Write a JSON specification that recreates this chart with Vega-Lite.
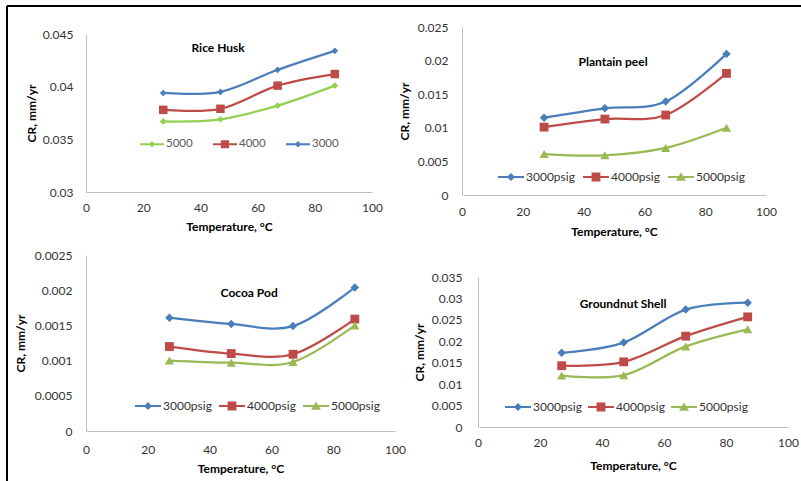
{
  "$schema": "https://vega.github.io/schema/vega-lite/v6.json",
  "width": 794,
  "height": 475,
  "autosize": {"type": "none"},
  "padding": {"left": 7, "top": 6, "right": 0, "bottom": 0},
  "background": "white",
  "view": {"stroke": "black", "strokeWidth": 2, "strokeDash": [794, 1269, 475, 0]},
  "config": {
    "font": "Lato",
    "axis": {"ticks": false, "grid": false, "domainColor": "#bfbfbf", "domainWidth": 1, "labelFont": "Lato", "labelFontSize": 12, "labelColor": "#333333", "titleFont": "Lato", "titleFontSize": 12, "titleFontWeight": "bold", "titleColor": "#000000", "labelFlush": false, "labelOverlap": false},
    "legend": {"direction": "horizontal", "orient": "none", "title": null, "labelFont": "Lato", "labelFontSize": 12, "labelColor": "#333333", "padding": 0, "symbolOpacity": 1, "symbolStrokeWidth": 0, "labelOffset": 2, "columnPadding": 7, "symbolSize": 676}
  },
  "data": {"values": [
    {"p": "RH", "s": "3000", "t": 27, "cr": 0.0394}, {"p": "RH", "s": "3000", "t": 47, "cr": 0.0395}, {"p": "RH", "s": "3000", "t": 67, "cr": 0.0416}, {"p": "RH", "s": "3000", "t": 87, "cr": 0.0434},
    {"p": "RH", "s": "4000", "t": 27, "cr": 0.0378}, {"p": "RH", "s": "4000", "t": 47, "cr": 0.0379}, {"p": "RH", "s": "4000", "t": 67, "cr": 0.0401}, {"p": "RH", "s": "4000", "t": 87, "cr": 0.0412},
    {"p": "RH", "s": "5000", "t": 27, "cr": 0.0367}, {"p": "RH", "s": "5000", "t": 47, "cr": 0.0369}, {"p": "RH", "s": "5000", "t": 67, "cr": 0.0382}, {"p": "RH", "s": "5000", "t": 87, "cr": 0.0401},
    {"p": "PP", "s": "3000psig", "t": 27, "cr": 0.0115}, {"p": "PP", "s": "3000psig", "t": 47, "cr": 0.0129}, {"p": "PP", "s": "3000psig", "t": 67, "cr": 0.0139}, {"p": "PP", "s": "3000psig", "t": 87, "cr": 0.0210},
    {"p": "PP", "s": "4000psig", "t": 27, "cr": 0.0101}, {"p": "PP", "s": "4000psig", "t": 47, "cr": 0.0113}, {"p": "PP", "s": "4000psig", "t": 67, "cr": 0.0119}, {"p": "PP", "s": "4000psig", "t": 87, "cr": 0.0181},
    {"p": "PP", "s": "5000psig", "t": 27, "cr": 0.0061}, {"p": "PP", "s": "5000psig", "t": 47, "cr": 0.0059}, {"p": "PP", "s": "5000psig", "t": 67, "cr": 0.0070}, {"p": "PP", "s": "5000psig", "t": 87, "cr": 0.0100},
    {"p": "CP", "s": "3000psig", "t": 27, "cr": 0.00161}, {"p": "CP", "s": "3000psig", "t": 47, "cr": 0.00152}, {"p": "CP", "s": "3000psig", "t": 67, "cr": 0.00149}, {"p": "CP", "s": "3000psig", "t": 87, "cr": 0.00204},
    {"p": "CP", "s": "4000psig", "t": 27, "cr": 0.00120}, {"p": "CP", "s": "4000psig", "t": 47, "cr": 0.00110}, {"p": "CP", "s": "4000psig", "t": 67, "cr": 0.00109}, {"p": "CP", "s": "4000psig", "t": 87, "cr": 0.00159},
    {"p": "CP", "s": "5000psig", "t": 27, "cr": 0.00100}, {"p": "CP", "s": "5000psig", "t": 47, "cr": 0.00097}, {"p": "CP", "s": "5000psig", "t": 67, "cr": 0.00098}, {"p": "CP", "s": "5000psig", "t": 87, "cr": 0.00150},
    {"p": "GS", "s": "3000psig", "t": 27, "cr": 0.0173}, {"p": "GS", "s": "3000psig", "t": 47, "cr": 0.0197}, {"p": "GS", "s": "3000psig", "t": 67, "cr": 0.0274}, {"p": "GS", "s": "3000psig", "t": 87, "cr": 0.0290},
    {"p": "GS", "s": "4000psig", "t": 27, "cr": 0.0143}, {"p": "GS", "s": "4000psig", "t": 47, "cr": 0.0152}, {"p": "GS", "s": "4000psig", "t": 67, "cr": 0.0212}, {"p": "GS", "s": "4000psig", "t": 87, "cr": 0.0257},
    {"p": "GS", "s": "5000psig", "t": 27, "cr": 0.0120}, {"p": "GS", "s": "5000psig", "t": 47, "cr": 0.0121}, {"p": "GS", "s": "5000psig", "t": 67, "cr": 0.0188}, {"p": "GS", "s": "5000psig", "t": 87, "cr": 0.0228}
  ]},
  "layer": [
    {
      "transform": [{"filter": "datum.p === 'RH'"}],
      "encoding": {
        "x": {"field": "t", "type": "quantitative", "scale": {"domain": [0, 100], "range": [79, 365], "nice": false, "zero": false},
              "axis": {"orient": "bottom", "offset": -289, "values": [0, 20, 40, 60, 80, 100], "labelPadding": 10, "title": "Temperature, °C", "titlePadding": 8}},
        "y": {"field": "cr", "type": "quantitative", "scale": {"domain": [0.03, 0.045], "range": [186, 28], "nice": false, "zero": false},
              "axis": {"orient": "left", "offset": -79, "values": [0.03, 0.035, 0.04, 0.045], "format": "~g", "labelPadding": 13, "title": "CR, mm/yr", "titlePadding": 4}}
      },
      "layer": [
        {"mark": {"type": "line", "interpolate": "cardinal", "strokeWidth": 2.25},
         "encoding": {"color": {"field": "s", "type": "nominal", "scale": {"domain": ["5000", "4000", "3000"], "range": ["#92D050", "#BE4B48", "#4A7EBB"]}}}},
        {"transform": [{"filter": "datum.s === '5000'"}], "mark": {"type": "point", "filled": true, "opacity": 1, "shape": "diamond", "size": 45, "color": "#92D050"}},
        {"transform": [{"filter": "datum.s === '4000'"}], "mark": {"type": "point", "filled": true, "opacity": 1, "shape": "square", "size": 72, "color": "#BE4B48"}},
        {"transform": [{"filter": "datum.s === '3000'"}], "mark": {"type": "point", "filled": true, "opacity": 1, "shape": "diamond", "size": 45, "color": "#4A7EBB"}},
        {"mark": {"type": "point", "filled": true, "opacity": 0, "size": 1},
         "encoding": {"color": {"field": "s", "type": "nominal", "scale": {"domain": ["5000", "4000", "3000"], "range": ["#92D050", "#BE4B48", "#4A7EBB"]},
                                "legend": {"legendX": 133, "legendY": 126, "symbolSize": 576, "columnPadding": 20, "labelFontSize": 11.5, "labelColor": "#595959"}},
                      "shape": {"field": "s", "type": "nominal", "scale": {"domain": ["5000", "4000", "3000"], "range": [
                        "M-1,-0.09L1,-0.09L1,0.09L-1,0.09Z M0,-0.27L0.27,0L0,0.27L-0.27,0Z",
                        "M-1,-0.09L1,-0.09L1,0.09L-1,0.09Z M-0.34,-0.34L0.34,-0.34L0.34,0.34L-0.34,0.34Z",
                        "M-1,-0.09L1,-0.09L1,0.09L-1,0.09Z M0,-0.27L0.27,0L0,0.27L-0.27,0Z"]}, "legend": null}}},
        {"transform": [{"filter": "datum.s === '3000' && datum.t === 27"}],
         "mark": {"type": "text", "text": "Rice Husk", "fontSize": 12, "fontWeight": "bold", "align": "center", "baseline": "middle", "color": "#000000"},
         "encoding": {"x": {"datum": 46.2, "type": "quantitative"}, "y": {"datum": 0.04367, "type": "quantitative"}}}
      ]
    },
    {
      "transform": [{"filter": "datum.p === 'PP'"}],
      "encoding": {
        "x": {"field": "t", "type": "quantitative", "scale": {"domain": [0, 100], "range": [455, 759], "nice": false, "zero": false},
              "axis": {"orient": "bottom", "offset": -286, "values": [0, 20, 40, 60, 80, 100], "labelPadding": 11, "title": "Temperature, °C", "titlePadding": 9}},
        "y": {"field": "cr", "type": "quantitative", "scale": {"domain": [0, 0.025], "range": [189, 21], "nice": false, "zero": false},
              "axis": {"orient": "left", "offset": -455, "values": [0, 0.005, 0.01, 0.015, 0.02, 0.025], "format": "~g", "labelPadding": 14, "title": "CR, mm/yr", "titlePadding": 6}}
      },
      "layer": [
        {"mark": {"type": "line", "interpolate": "cardinal", "strokeWidth": 2.25},
         "encoding": {"color": {"field": "s", "type": "nominal", "scale": {"domain": ["3000psig", "4000psig", "5000psig"], "range": ["#4A7EBB", "#BE4B48", "#98B954"]}}}},
        {"transform": [{"filter": "datum.s === '3000psig'"}], "mark": {"type": "point", "filled": true, "opacity": 1, "shape": "diamond", "size": 72, "color": "#4A7EBB"}},
        {"transform": [{"filter": "datum.s === '4000psig'"}], "mark": {"type": "point", "filled": true, "opacity": 1, "shape": "square", "size": 78, "color": "#BE4B48"}},
        {"transform": [{"filter": "datum.s === '5000psig'"}], "mark": {"type": "point", "filled": true, "opacity": 1, "shape": "triangle-up", "size": 85, "color": "#98B954"}},
        {"mark": {"type": "point", "filled": true, "opacity": 0, "size": 1},
         "encoding": {"color": {"field": "s", "type": "nominal", "scale": {"domain": ["3000psig", "4000psig", "5000psig"], "range": ["#4A7EBB", "#BE4B48", "#98B954"]},
                                "legend": {"legendX": 491, "legendY": 158, "columnPadding": 8}},
                      "shape": {"field": "s", "type": "nominal", "scale": {"domain": ["3000psig", "4000psig", "5000psig"], "range": [
                        "M-1,-0.08L1,-0.08L1,0.08L-1,0.08Z M0,-0.31L0.31,0L0,0.31L-0.31,0Z",
                        "M-1,-0.08L1,-0.08L1,0.08L-1,0.08Z M-0.34,-0.34L0.34,-0.34L0.34,0.34L-0.34,0.34Z",
                        "M-1,-0.08L1,-0.08L1,0.08L-1,0.08Z M0,-0.35L0.38,0.28L-0.38,0.28Z"]}, "legend": null}}},
        {"transform": [{"filter": "datum.s === '3000psig' && datum.t === 27"}],
         "mark": {"type": "text", "text": "Plantain peel", "fontSize": 12, "fontWeight": "bold", "align": "center", "baseline": "middle", "color": "#000000"},
         "encoding": {"x": {"datum": 49.7, "type": "quantitative"}, "y": {"datum": 0.0198, "type": "quantitative"}}}
      ]
    },
    {
      "transform": [{"filter": "datum.p === 'CP'"}],
      "encoding": {
        "x": {"field": "t", "type": "quantitative", "scale": {"domain": [0, 100], "range": [79, 388], "nice": false, "zero": false},
              "axis": {"orient": "bottom", "offset": -50, "values": [0, 20, 40, 60, 80, 100], "labelPadding": 13, "title": "Temperature, °C", "titlePadding": 8}},
        "y": {"field": "cr", "type": "quantitative", "scale": {"domain": [0, 0.0025], "range": [425, 249], "nice": false, "zero": false},
              "axis": {"orient": "left", "offset": -79, "values": [0, 0.0005, 0.001, 0.0015, 0.002, 0.0025], "format": "~g", "labelPadding": 14, "title": "CR, mm/yr", "titlePadding": 7}}
      },
      "layer": [
        {"mark": {"type": "line", "interpolate": "cardinal", "strokeWidth": 2.25},
         "encoding": {"color": {"field": "s", "type": "nominal", "scale": {"domain": ["3000psig", "4000psig", "5000psig"], "range": ["#4A7EBB", "#BE4B48", "#98B954"]}}}},
        {"transform": [{"filter": "datum.s === '3000psig'"}], "mark": {"type": "point", "filled": true, "opacity": 1, "shape": "diamond", "size": 72, "color": "#4A7EBB"}},
        {"transform": [{"filter": "datum.s === '4000psig'"}], "mark": {"type": "point", "filled": true, "opacity": 1, "shape": "square", "size": 78, "color": "#BE4B48"}},
        {"transform": [{"filter": "datum.s === '5000psig'"}], "mark": {"type": "point", "filled": true, "opacity": 1, "shape": "triangle-up", "size": 85, "color": "#98B954"}},
        {"mark": {"type": "point", "filled": true, "opacity": 0, "size": 1},
         "encoding": {"color": {"field": "s", "type": "nominal", "scale": {"domain": ["3000psig", "4000psig", "5000psig"], "range": ["#4A7EBB", "#BE4B48", "#98B954"]},
                                "legend": {"legendX": 128, "legendY": 387}},
                      "shape": {"field": "s", "type": "nominal", "scale": {"domain": ["3000psig", "4000psig", "5000psig"], "range": [
                        "M-1,-0.08L1,-0.08L1,0.08L-1,0.08Z M0,-0.31L0.31,0L0,0.31L-0.31,0Z",
                        "M-1,-0.08L1,-0.08L1,0.08L-1,0.08Z M-0.34,-0.34L0.34,-0.34L0.34,0.34L-0.34,0.34Z",
                        "M-1,-0.08L1,-0.08L1,0.08L-1,0.08Z M0,-0.35L0.38,0.28L-0.38,0.28Z"]}, "legend": null}}},
        {"transform": [{"filter": "datum.s === '3000psig' && datum.t === 27"}],
         "mark": {"type": "text", "text": "Cocoa  Pod", "fontSize": 12, "fontWeight": "bold", "align": "center", "baseline": "middle", "color": "#000000"},
         "encoding": {"x": {"datum": 52.8, "type": "quantitative"}, "y": {"datum": 0.00196, "type": "quantitative"}}}
      ]
    },
    {
      "transform": [{"filter": "datum.p === 'GS'"}],
      "encoding": {
        "x": {"field": "t", "type": "quantitative", "scale": {"domain": [0, 100], "range": [471, 781], "nice": false, "zero": false},
              "axis": {"orient": "bottom", "offset": -54, "values": [0, 20, 40, 60, 80, 100], "labelPadding": 10, "title": "Temperature, °C", "titlePadding": 12}},
        "y": {"field": "cr", "type": "quantitative", "scale": {"domain": [0, 0.035], "range": [421, 271], "nice": false, "zero": false},
              "axis": {"orient": "left", "offset": -471, "values": [0, 0.005, 0.01, 0.015, 0.02, 0.025, 0.03, 0.035], "format": "~g", "labelPadding": 16, "title": "CR, mm/yr", "titlePadding": 5}}
      },
      "layer": [
        {"mark": {"type": "line", "interpolate": "cardinal", "strokeWidth": 2.25},
         "encoding": {"color": {"field": "s", "type": "nominal", "scale": {"domain": ["3000psig", "4000psig", "5000psig"], "range": ["#4A7EBB", "#BE4B48", "#98B954"]}}}},
        {"transform": [{"filter": "datum.s === '3000psig'"}], "mark": {"type": "point", "filled": true, "opacity": 1, "shape": "diamond", "size": 72, "color": "#4A7EBB"}},
        {"transform": [{"filter": "datum.s === '4000psig'"}], "mark": {"type": "point", "filled": true, "opacity": 1, "shape": "square", "size": 78, "color": "#BE4B48"}},
        {"transform": [{"filter": "datum.s === '5000psig'"}], "mark": {"type": "point", "filled": true, "opacity": 1, "shape": "triangle-up", "size": 85, "color": "#98B954"}},
        {"mark": {"type": "point", "filled": true, "opacity": 0, "size": 1},
         "encoding": {"color": {"field": "s", "type": "nominal", "scale": {"domain": ["3000psig", "4000psig", "5000psig"], "range": ["#4A7EBB", "#BE4B48", "#98B954"]},
                                "legend": {"legendX": 498, "legendY": 388, "columnPadding": 6}},
                      "shape": {"field": "s", "type": "nominal", "scale": {"domain": ["3000psig", "4000psig", "5000psig"], "range": [
                        "M-1,-0.08L1,-0.08L1,0.08L-1,0.08Z M0,-0.31L0.31,0L0,0.31L-0.31,0Z",
                        "M-1,-0.08L1,-0.08L1,0.08L-1,0.08Z M-0.34,-0.34L0.34,-0.34L0.34,0.34L-0.34,0.34Z",
                        "M-1,-0.08L1,-0.08L1,0.08L-1,0.08Z M0,-0.35L0.38,0.28L-0.38,0.28Z"]}, "legend": null}}},
        {"transform": [{"filter": "datum.s === '3000psig' && datum.t === 27"}],
         "mark": {"type": "text", "text": "Groundnut  Shell", "fontSize": 12, "fontWeight": "bold", "align": "center", "baseline": "middle", "color": "#000000"},
         "encoding": {"x": {"datum": 46.8, "type": "quantitative"}, "y": {"datum": 0.0287, "type": "quantitative"}}}
      ]
    }
  ],
  "resolve": {
    "scale": {"x": "independent", "y": "independent", "color": "independent", "shape": "independent"},
    "axis": {"x": "independent", "y": "independent"},
    "legend": {"color": "independent", "shape": "independent"}
  }
}
